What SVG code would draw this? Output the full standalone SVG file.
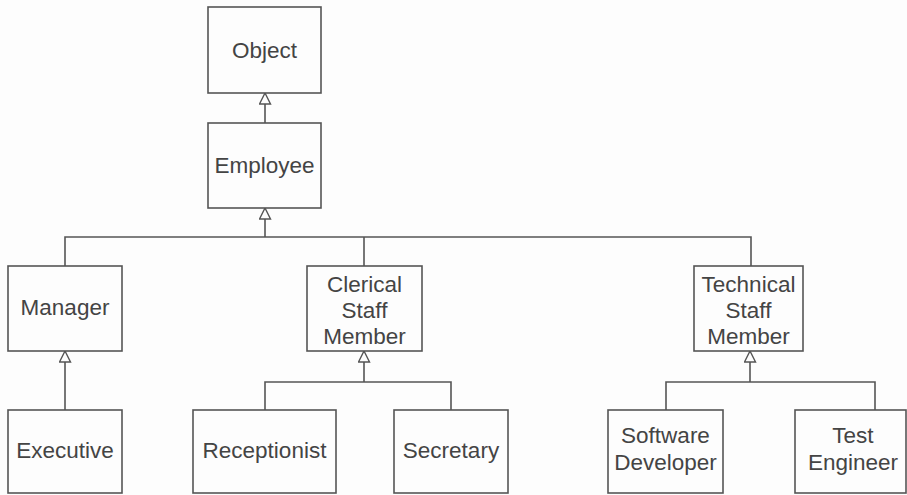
<svg xmlns="http://www.w3.org/2000/svg" width="907" height="495" viewBox="0 0 907 495">
<style>
.box{fill:#fdfdfd;stroke:#555;stroke-width:1.6}
.t{font-family:"Liberation Sans",Arial,sans-serif;font-size:22.5px;fill:#444;text-anchor:middle}
.c{fill:none;stroke:#555;stroke-width:1.6}
</style>
<defs>
<marker id="tri" viewBox="0 0 13 13" refX="12" refY="6.5" markerWidth="13" markerHeight="13" markerUnits="userSpaceOnUse" orient="auto">
<path d="M1,1 L12,6.5 L1,12 Z" fill="#fdfdfd" stroke="#555" stroke-width="1.4"/>
</marker>
</defs>
<rect width="907" height="495" fill="#fdfdfd"/>
<g id="connectors">
<path class="c" d="M265,123 V93" marker-end="url(#tri)"/>
<path class="c" d="M65,266 V237 H751 V266"/>
<path class="c" d="M265,237 V208" marker-end="url(#tri)"/>
<path class="c" d="M364,237 V266"/>
<path class="c" d="M65,410 V351" marker-end="url(#tri)"/>
<path class="c" d="M265,410 V382 H451 V410"/>
<path class="c" d="M364,382 V351" marker-end="url(#tri)"/>
<path class="c" d="M666,410 V382 H875 V410"/>
<path class="c" d="M750,382 V351" marker-end="url(#tri)"/>
</g>
<g id="object"><rect class="box" x="208" y="7" width="113" height="86"/><text class="t" x="264.5" y="58">Object</text></g>
<g id="employee"><rect class="box" x="208" y="123" width="113" height="85"/><text class="t" x="264.5" y="173">Employee</text></g>
<g id="manager"><rect class="box" x="8" y="266" width="114" height="85"/><text class="t" x="65" y="315">Manager</text></g>
<g id="clerical"><rect class="box" x="307" y="266" width="115" height="85"/><text class="t" x="364.5" y="292">Clerical</text><text class="t" x="364.5" y="318">Staff</text><text class="t" x="364.5" y="344">Member</text></g>
<g id="technical"><rect class="box" x="694" y="266" width="109" height="85"/><text class="t" x="748.5" y="292">Technical</text><text class="t" x="748.5" y="318">Staff</text><text class="t" x="748.5" y="344">Member</text></g>
<g id="executive"><rect class="box" x="8" y="410" width="114" height="83"/><text class="t" x="65" y="458">Executive</text></g>
<g id="receptionist"><rect class="box" x="193" y="410" width="143" height="83"/><text class="t" x="264.5" y="458">Receptionist</text></g>
<g id="secretary"><rect class="box" x="394" y="410" width="114" height="83"/><text class="t" x="451" y="458">Secretary</text></g>
<g id="software-developer"><rect class="box" x="608" y="410" width="115" height="83"/><text class="t" x="665.5" y="443">Software</text><text class="t" x="665.5" y="470">Developer</text></g>
<g id="test-engineer"><rect class="box" x="795" y="410" width="111" height="83"/><text class="t" x="853" y="443">Test</text><text class="t" x="853" y="470">Engineer</text></g>
</svg>
